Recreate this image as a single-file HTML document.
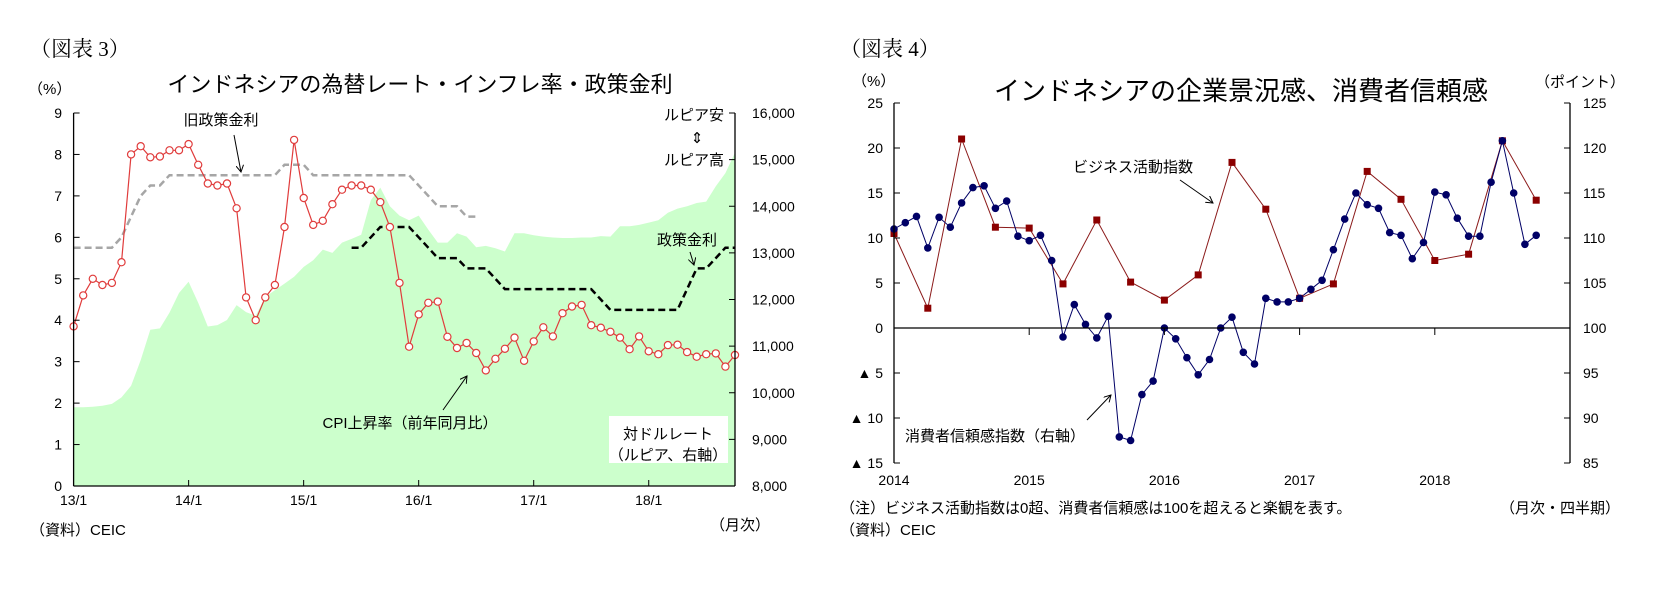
<!DOCTYPE html>
<html><head><meta charset="utf-8"><style>
html,body{margin:0;padding:0;background:#fff;}
svg{display:block;font-family:"Liberation Sans","Noto Sans CJK JP",sans-serif;}
.t{font-size:15px;fill:#000;}
</style></head><body>
<svg id="svg" width="1663" height="591" viewBox="0 0 1663 591" xmlns="http://www.w3.org/2000/svg">
<defs><marker id="ah" markerWidth="8" markerHeight="8" refX="7" refY="4" orient="auto"><path d="M0,0 L7,4 L0,8" fill="none" stroke="#000" stroke-width="1"/></marker></defs>
<g id="left">
<text x="30" y="56" style="font-family:'Liberation Serif','Noto Serif CJK SC',serif;font-size:21px">（図表 3）</text>
<text x="420" y="92" text-anchor="middle" style="font-size:22px">インドネシアの為替レート・インフレ率・政策金利</text>
<text x="28" y="94" class="t">（%）</text>
<g id="lArea"></g>
<g id="lLines"></g>
<g id="lAxes"></g>
<rect x="609" y="416" width="119" height="47" fill="#fff"/>
<text x="668" y="439" text-anchor="middle" class="t">対ドルレート</text>
<text x="668" y="460" text-anchor="middle" class="t">（ルピア、右軸）</text>
<text x="221" y="125" text-anchor="middle" class="t">旧政策金利</text>
<line x1="234" y1="135" x2="241" y2="172" stroke="#000" stroke-width="1" marker-end="url(#ah)"/>
<text x="724" y="120" text-anchor="end" class="t">ルピア安</text>
<text x="697" y="143" text-anchor="middle" class="t">⇕</text>
<text x="724" y="165" text-anchor="end" class="t">ルピア高</text>
<text x="687" y="245" text-anchor="middle" class="t">政策金利</text>
<line x1="690" y1="252" x2="694" y2="265" stroke="#000" stroke-width="1" marker-end="url(#ah)"/>
<text x="410" y="428" text-anchor="middle" class="t">CPI上昇率（前年同月比）</text>
<line x1="443" y1="410" x2="467" y2="376" stroke="#000" stroke-width="1" marker-end="url(#ah)"/>
<text x="30" y="535" class="t">（資料）CEIC</text>
<text x="710" y="530" class="t">（月次）</text>
</g>
<g id="right">
<text x="840" y="56" style="font-family:'Liberation Serif','Noto Serif CJK SC',serif;font-size:21px">（図表 4）</text>
<text x="1241" y="100" text-anchor="middle" style="font-size:26px">インドネシアの企業景況感、消費者信頼感</text>
<text x="852" y="86" class="t">（%）</text>
<text x="1535" y="87" class="t">（ポイント）</text>
<g id="rLines"></g>
<g id="rAxes"></g>
<text x="1133" y="172" text-anchor="middle" class="t">ビジネス活動指数</text>
<line x1="1180" y1="180" x2="1213" y2="203" stroke="#000" stroke-width="1" marker-end="url(#ah)"/>
<text x="995" y="441" text-anchor="middle" class="t">消費者信頼感指数（右軸）</text>
<line x1="1087" y1="420" x2="1111" y2="395" stroke="#000" stroke-width="1" marker-end="url(#ah)"/>
<text x="840" y="513" class="t">（注）ビジネス活動指数は0超、消費者信頼感は100を超えると楽観を表す。</text>
<text x="840" y="535" class="t">（資料）CEIC</text>
<text x="1500" y="513" class="t">（月次・四半期）</text>
</g>
</svg>
<script>
// ---- Chart 3 data (monthly from 13/1) ----
const months3 = 70;
const xLabels3 = ["13/1","14/1","15/1","16/1","17/1","18/1"];
const leftTicks3 = [0,1,2,3,4,5,6,7,8,9];
const rightTicks3 = ["8,000","9,000","10,000","11,000","12,000","13,000","14,000","15,000","16,000"];
const cpi = [3.85,4.6,5.0,4.85,4.9,5.4,8.0,8.2,7.93,7.95,8.1,8.1,8.25,7.75,7.3,7.25,7.3,6.7,4.55,4.0,4.55,4.85,6.25,8.35,6.95,6.3,6.4,6.8,7.15,7.25,7.25,7.15,6.85,6.25,4.9,3.36,4.14,4.42,4.45,3.6,3.33,3.45,3.21,2.79,3.07,3.31,3.58,3.02,3.49,3.83,3.61,4.17,4.33,4.37,3.88,3.82,3.72,3.58,3.3,3.61,3.25,3.18,3.4,3.41,3.23,3.12,3.18,3.2,2.88,3.16];
const oldRate = [5.75,5.75,5.75,5.75,5.75,6.0,6.5,7.0,7.25,7.25,7.5,7.5,7.5,7.5,7.5,7.5,7.5,7.5,7.5,7.5,7.5,7.5,7.75,7.75,7.75,7.5,7.5,7.5,7.5,7.5,7.5,7.5,7.5,7.5,7.5,7.5,7.25,7.0,6.75,6.75,6.75,6.5,6.5];
const newRateStart = 29;
const newRate = [5.75,5.75,6.0,6.25,6.25,6.25,6.25,6.0,5.75,5.5,5.5,5.5,5.25,5.25,5.25,5.0,4.75,4.75,4.75,4.75,4.75,4.75,4.75,4.75,4.75,4.75,4.5,4.25,4.25,4.25,4.25,4.25,4.25,4.25,4.25,4.75,5.25,5.25,5.5,5.75,5.75];
const fx = [9690,9690,9700,9720,9760,9900,10150,10700,11350,11380,11720,12140,12380,11930,11420,11450,11560,11880,11730,11650,12060,12200,12340,12490,12700,12840,13070,13000,13220,13300,13390,14130,14400,14000,13800,13700,13800,13500,13220,13220,13420,13350,13120,13150,13100,13030,13420,13420,13380,13350,13330,13320,13320,13330,13330,13360,13350,13570,13570,13600,13650,13700,13860,13950,14000,14070,14100,14430,14710,15150];

const L = {x0:73.6, x1:735, y0:486, y1:113};
const lx = m => L.x0 + m*(L.x1-L.x0)/(months3-1);
const ly = v => L.y0 - v*(L.y0-L.y1)/9;
const ry = v => L.y0 - (v-8000)*(L.y0-L.y1)/8000;
const NS="http://www.w3.org/2000/svg";
function mk(parent,tag,attrs){const e=document.createElementNS(NS,tag);for(const k in attrs)e.setAttribute(k,attrs[k]);parent.appendChild(e);return e;}

const lArea=document.getElementById('lArea'), lLines=document.getElementById('lLines'), lAxes=document.getElementById('lAxes');
let d="M"+lx(0)+","+L.y0;
fx.forEach((v,i)=>{d+=" L"+lx(i).toFixed(1)+","+ry(v).toFixed(1);});
d+=" L"+lx(fx.length-1)+","+L.y0+" Z";
const area=mk(lArea,'path',{d:d,fill:'#ccffcc'});



let g=mk(lLines,'path',{d:oldRate.map((v,i)=>(i?"L":"M")+lx(i).toFixed(1)+","+ly(v).toFixed(1)).join(" "),fill:'none',stroke:'#a6a6a6','stroke-width':2.5,'stroke-dasharray':'7,4'});


let b=mk(lLines,'path',{d:newRate.map((v,i)=>(i?"L":"M")+lx(i+newRateStart).toFixed(1)+","+ly(v).toFixed(1)).join(" "),fill:'none',stroke:'#000','stroke-width':2.5,'stroke-dasharray':'7,4'});


let c=mk(lLines,'path',{d:cpi.map((v,i)=>(i?"L":"M")+lx(i).toFixed(1)+","+ly(v).toFixed(1)).join(" "),fill:'none',stroke:'#e03c3c','stroke-width':1.2});


cpi.forEach((v,i)=>{
  const p=mk(lLines,'circle',{cx:lx(i).toFixed(1),cy:ly(v).toFixed(1),r:3.6,fill:'#fff',stroke:'#e03c3c','stroke-width':1.2});
  
  
});
mk(lAxes,'line',{x1:L.x0,y1:L.y1,x2:L.x0,y2:L.y0,stroke:'#000','stroke-width':1.3});
mk(lAxes,'line',{x1:L.x1,y1:L.y1,x2:L.x1,y2:L.y0,stroke:'#000','stroke-width':1.3});
mk(lAxes,'line',{x1:L.x0,y1:L.y0,x2:L.x1,y2:L.y0,stroke:'#000','stroke-width':1.3});
leftTicks3.forEach(v=>{
  mk(lAxes,'line',{x1:L.x0,y1:ly(v),x2:L.x0+6,y2:ly(v),stroke:'#000'});
  const t=mk(lAxes,'text',{x:62,y:ly(v)+5,'text-anchor':'end','font-size':14});t.textContent=v;
  
  
});
rightTicks3.forEach((s,i)=>{
  const y=ry(8000+i*1000);
  mk(lAxes,'line',{x1:L.x1-6,y1:y,x2:L.x1,y2:y,stroke:'#000'});
  const t=mk(lAxes,'text',{x:752,y:y+5,'font-size':14});t.textContent=s;
  
  
});
xLabels3.forEach((s,i)=>{
  const x=lx(i*12);
  if(i>0) mk(lAxes,'line',{x1:x,y1:L.y0,x2:x,y2:L.y0-6,stroke:'#000'});
  const t=mk(lAxes,'text',{x:x,y:505,'text-anchor':'middle','font-size':14});t.textContent=s;
  
  
});

// ---- Chart 4 data ----
const years4 = ["2014","2015","2016","2017","2018"];
const leftTicks4 = ["▲ 15","▲ 10","▲ 5","0","5","10","15","20","25"];
const rightTicks4 = ["85","90","95","100","105","110","115","120","125"];
const business = [10.5,2.2,21,11.2,11.1,4.9,12,5.1,3.1,5.9,18.4,13.2,3.3,4.9,17.4,14.3,7.5,8.2,20.8,14.2];
const consumer = [111,111.7,112.4,108.9,112.3,111.2,113.9,115.6,115.8,113.3,114.1,110.2,
 109.7,110.3,107.5,99,102.6,100.4,98.9,101.3,87.9,87.5,92.6,94.1,
 100,98.8,96.7,94.8,96.5,100,101.2,97.3,96,103.3,102.9,102.9,
 103.3,104.3,105.3,108.7,112.1,115,113.7,113.3,110.6,110.3,107.7,109.5,
 115.1,114.8,112.2,110.2,110.2,116.2,120.8,115,109.3,110.3];

const R = {x0:894, x1:1570, y0:463, y1:103};
const rx = m => R.x0 + m*(R.x1-R.x0)/60;
const rly = v => R.y0 - (v+15)*(R.y0-R.y1)/40;
const rry = v => R.y0 - (v-85)*(R.y0-R.y1)/40;
const rLines=document.getElementById('rLines'), rAxes=document.getElementById('rAxes');
mk(rAxes,'line',{x1:R.x0,y1:R.y1,x2:R.x0,y2:R.y0,stroke:'#000','stroke-width':1.3});
mk(rAxes,'line',{x1:R.x1,y1:R.y1,x2:R.x1,y2:R.y0,stroke:'#000','stroke-width':1.3});
mk(rAxes,'line',{x1:R.x0,y1:rly(0),x2:R.x1,y2:rly(0),stroke:'#000','stroke-width':1.3});
leftTicks4.forEach((s,i)=>{
  const y=rly(-15+i*5);
  mk(rAxes,'line',{x1:R.x0,y1:y,x2:R.x0+6,y2:y,stroke:'#000'});
  const t=mk(rAxes,'text',{x:883,y:y+5,'text-anchor':'end','font-size':14});t.textContent=s;
  
  
});
rightTicks4.forEach((s,i)=>{
  const y=rry(85+i*5);
  mk(rAxes,'line',{x1:R.x1-6,y1:y,x2:R.x1,y2:y,stroke:'#000'});
  const t=mk(rAxes,'text',{x:1583,y:y+5,'font-size':14});t.textContent=s;
  
  
});
years4.forEach((s,i)=>{
  const x=rx(i*12);
  if(i>0) mk(rAxes,'line',{x1:x,y1:rly(0),x2:x,y2:rly(0)+7,stroke:'#000'});
  const t=mk(rAxes,'text',{x:x,y:485,'text-anchor':'middle','font-size':14});t.textContent=s;
  
  
});
let bl=mk(rLines,'path',{d:business.map((v,i)=>(i?"L":"M")+rx(i*3).toFixed(1)+","+rly(v).toFixed(1)).join(" "),fill:'none',stroke:'#8b1a1a','stroke-width':1});


let cl=mk(rLines,'path',{d:consumer.map((v,i)=>(i?"L":"M")+rx(i).toFixed(1)+","+rry(v).toFixed(1)).join(" "),fill:'none',stroke:'#000066','stroke-width':1});


business.forEach((v,i)=>{
  const s=mk(rLines,'rect',{x:(rx(i*3)-3.5).toFixed(1),y:(rly(v)-3.5).toFixed(1),width:7,height:7,fill:'#8b0000'});
  
  
});
consumer.forEach((v,i)=>{
  const p=mk(rLines,'circle',{cx:rx(i).toFixed(1),cy:rry(v).toFixed(1),r:3.8,fill:'#000066'});
  
  
});
</script>
</body></html>
